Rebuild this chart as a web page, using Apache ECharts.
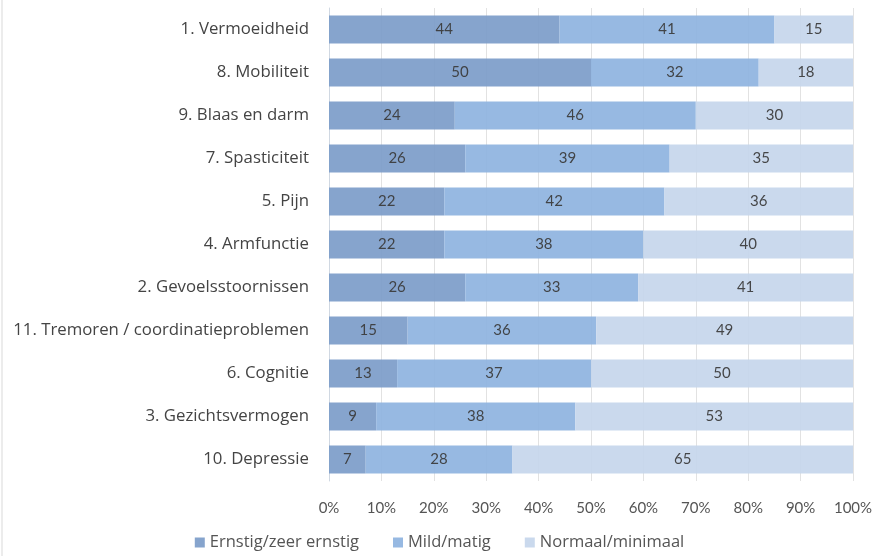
<!DOCTYPE html>
<html><head><meta charset="utf-8">
<script src="https://cdn.jsdelivr.net/npm/echarts@6/dist/echarts.min.js"></script>
<style>html,body{margin:0;padding:0;background:#fff}#c{width:879px;height:556px}</style>
</head><body><div id="c"></div>
<script>
const categories = ["1. Vermoeidheid","8. Mobiliteit","9. Blaas en darm","7. Spasticiteit","5. Pijn","4. Armfunctie","2. Gevoelsstoornissen","11. Tremoren / coordinatieproblemen","6. Cognitie","3. Gezichtsvermogen","10. Depressie"];
const ernstig = [44,50,24,26,22,22,26,15,13,9,7];
const mild = [41,32,46,39,42,38,33,36,37,38,28];
const normaal = [15,18,30,35,36,40,41,49,50,53,65];
const seriesNames = ["Ernstig/zeer ernstig","Mild/matig","Normaal/minimaal"];
const colors = ["#7d9dc9","#8fb4e0","#c6d6ec"];

const chart = echarts.init(document.getElementById('c'));
const font = '"Open Sans", Lato, sans-serif';
const lfont = 'Lato, "Open Sans", sans-serif';
function mk(name, data, color){
  return {name, type:'bar', stack:'t', data, barWidth:28,
    itemStyle:{color, opacity:0.93},
    label:{show:true, position:'inside', color:'#3b3b3b', fontSize:15, fontFamily:lfont},
    emphasis:{disabled:true}};
}
chart.setOption({
  animation:false,
  grid:{left:329, right:26, top:8, bottom:75, containLabel:false},
  legend:{bottom:0, left:'center', itemWidth:10, itemHeight:10, itemGap:34, icon:'rect',
    textStyle:{color:'#555', fontSize:16.5, fontFamily:font}, data:seriesNames},
  xAxis:{type:'value', min:0, max:100, interval:10,
    axisLabel:{formatter:'{value}%', color:'#555', fontSize:15, fontFamily:lfont, margin:20},
    axisLine:{show:false}, axisTick:{show:false},
    splitLine:{lineStyle:{color:'#e2e2e2'}}},
  yAxis:{type:'category', data:categories, inverse:true,
    axisLabel:{color:'#444', fontSize:16.8, fontFamily:font, margin:20},
    axisLine:{lineStyle:{color:'#d0d8e2'}}, axisTick:{show:false}},
  graphic:[{type:'line', shape:{x1:2,y1:0,x2:2,y2:556}, style:{stroke:'#d9d9d9', lineWidth:1}}],
  series:[mk(seriesNames[0], ernstig, colors[0]), mk(seriesNames[1], mild, colors[1]), mk(seriesNames[2], normaal, colors[2])]
});
</script></body></html>
